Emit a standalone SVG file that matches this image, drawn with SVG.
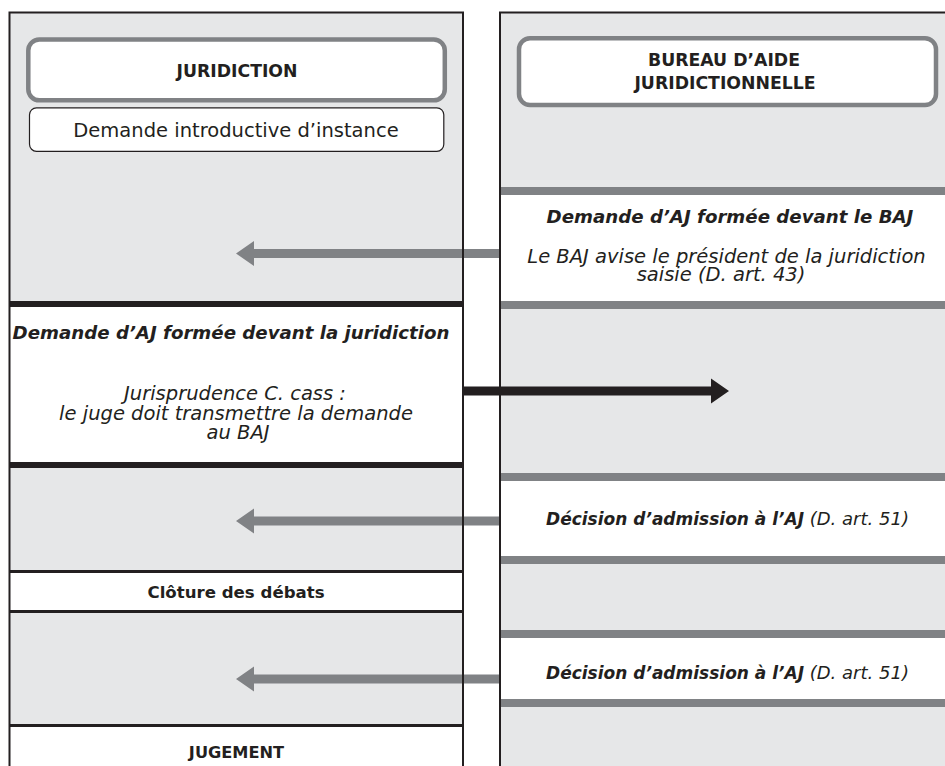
<svg xmlns="http://www.w3.org/2000/svg" width="945" height="766" viewBox="0 0 945 766">
<style>
.lane{fill:#e6e7e8}
.wband{fill:#ffffff}
.kline{fill:#231f20}
.gline{fill:#808285}
.outline{fill:none;stroke:#231f20;stroke-width:2}
.hdr{fill:#ffffff;stroke:#808285;stroke-width:4.5}
t{}
text{font-family:"DejaVu Sans","Liberation Sans",sans-serif;fill:#231f20;text-anchor:middle}
.b{font-weight:bold}
.i{font-style:italic}
.r{font-size:19.5px}
.h{font-size:17.3px;font-weight:bold}
.bi{font-size:18.2px;font-weight:bold;font-style:italic}
</style>
<rect width="945" height="766" fill="#ffffff"/>
<g id="lane-juridiction">
<rect class="lane" x="9.5" y="12.5" width="453.5" height="760"/>
<rect class="kline" x="9.5" y="301" width="453.5" height="6"/>
<rect class="wband" x="9.5" y="307" width="453.5" height="155"/>
<rect class="kline" x="9.5" y="462" width="453.5" height="6"/>
<rect class="kline" x="9.5" y="570" width="453.5" height="3"/>
<rect class="wband" x="9.5" y="573" width="453.5" height="37"/>
<rect class="kline" x="9.5" y="610" width="453.5" height="3"/>
<rect class="kline" x="9.5" y="724" width="453.5" height="3"/>
<rect class="wband" x="9.5" y="727" width="453.5" height="50"/>
</g>
<g id="lane-baj">
<rect class="lane" x="500" y="12.5" width="460" height="760"/>
<rect class="gline" x="500" y="187" width="460" height="8"/>
<rect class="wband" x="500" y="195" width="460" height="106"/>
<rect class="gline" x="500" y="301" width="460" height="8"/>
<rect class="gline" x="500" y="473" width="460" height="8"/>
<rect class="wband" x="500" y="481" width="460" height="75"/>
<rect class="gline" x="500" y="556" width="460" height="8"/>
<rect class="gline" x="500" y="630" width="460" height="8"/>
<rect class="wband" x="500" y="638" width="460" height="61"/>
<rect class="gline" x="500" y="699" width="460" height="8"/>
</g>
<g id="connectors">
<path class="gline" d="M500,249 L254,249 L254,241 L236,253.5 L254,266 L254,258 L500,258 Z"/>
<path class="kline" d="M463,386.5 L711,386.5 L711,378.5 L729,391 L711,403.5 L711,395.5 L463,395.5 Z"/>
<path class="gline" d="M500,516.5 L254,516.5 L254,508.5 L236,521 L254,533.5 L254,525.5 L500,525.5 Z"/>
<path class="gline" d="M500,674.5 L254,674.5 L254,666.5 L236,679 L254,691.5 L254,683.5 L500,683.5 Z"/>
</g>
<g id="lane-outlines">
<rect class="outline" x="9.5" y="12.5" width="453.5" height="780"/>
<rect class="outline" x="500" y="12.5" width="480" height="780"/>
</g>
<g id="header-juridiction">
<rect class="hdr" x="28.3" y="39.5" width="416.5" height="60.8" rx="11"/>
<text class="h" x="237" y="77">JURIDICTION</text>
</g>
<g id="header-baj">
<rect class="hdr" x="519" y="38.3" width="417" height="66.7" rx="11"/>
<text class="h" x="724" y="66">BUREAU D’AIDE</text>
<text class="h" x="725" y="89">JURIDICTIONNELLE</text>
</g>
<g id="demande-introductive">
<rect x="29.5" y="107.8" width="414.3" height="43.5" rx="7" fill="#ffffff" stroke="#231f20" stroke-width="1.2"/>
<text class="r" x="236" y="137">Demande introductive d’instance</text>
</g>
<g id="demande-aj-baj">
<text class="bi" x="730" y="223">Demande d’AJ formée devant le BAJ</text>
<text class="r i" x="726.5" y="263">Le BAJ avise le président de la juridiction</text>
<text class="r i" x="721" y="281">saisie (D. art. 43)</text>
</g>
<g id="demande-aj-juridiction">
<text class="bi" x="231" y="339">Demande d’AJ formée devant la juridiction</text>
<text class="r i" x="235" y="400">Jurisprudence C. cass :</text>
<text class="r i" x="236" y="420">le juge doit transmettre la demande</text>
<text class="r i" x="238" y="439">au BAJ</text>
</g>
<g id="decision-admission-1">
<text x="727.5" y="525"><tspan class="bi" style="font-size:17px">Décision d’admission à l’AJ</tspan><tspan class="i" style="font-size:18px"> (D. art. 51)</tspan></text>
</g>
<g id="cloture">
<text class="h" style="font-size:16.6px" x="236" y="598">Clôture des débats</text>
</g>
<g id="decision-admission-2">
<text x="727.5" y="679"><tspan class="bi" style="font-size:17px">Décision d’admission à l’AJ</tspan><tspan class="i" style="font-size:18px"> (D. art. 51)</tspan></text>
</g>
<g id="jugement">
<text class="h" style="font-size:16.2px" x="236.5" y="758">JUGEMENT</text>
</g>
</svg>
